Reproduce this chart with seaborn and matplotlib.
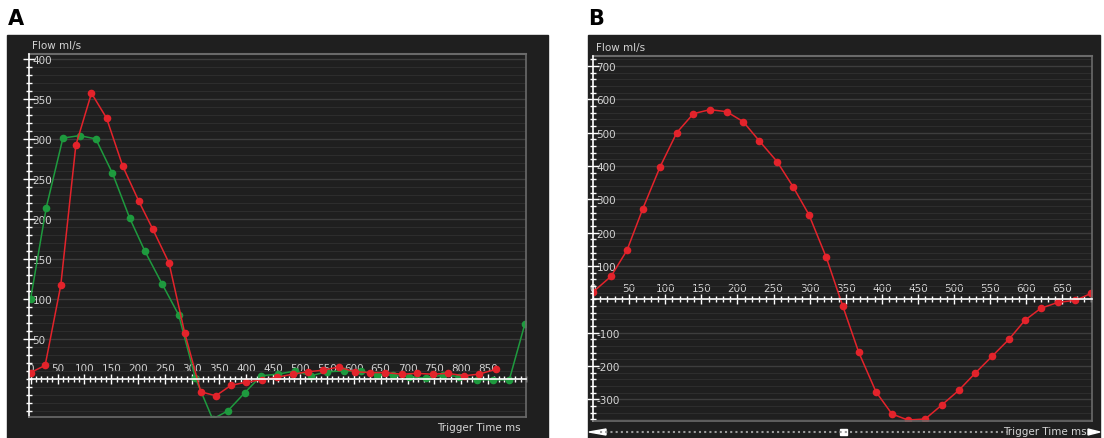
import matplotlib
matplotlib.use("Agg")
import matplotlib.pyplot as plt
import seaborn as sns
from matplotlib.ticker import MultipleLocator
from matplotlib.patches import Rectangle, Polygon
from matplotlib.lines import Line2D

# Panel A: two flow curves (ms, ml/s)
a_red_time = [0, 27, 56, 84, 113, 141, 171, 201, 227, 257, 286, 316, 344, 372, 400,
              429, 457, 487, 515, 543, 572, 602, 631, 658, 689, 717, 747, 775, 805, 832, 864]
a_red_flow = [8, 17, 117, 292, 357, 326, 266, 222, 187, 145, 58, -16, -21, -8, -4,
              -1, 2, 6, 9, 11, 15, 9, 8, 8, 6, 7, 6, 7, 4, 6, 12]
a_green_time = [0, 29, 60, 91, 121, 152, 184, 212, 244, 275, 306, 338, 366, 398, 428,
                459, 491, 520, 550, 582, 613, 643, 673, 702, 734, 766, 796, 829, 859, 889, 918]
a_green_flow = [100, 214, 301, 304, 300, 257, 201, 160, 119, 80, 1, -50, -40, -17, 4,
                6, 10, 4, 9, 10, 10, 5, 5, 3, 1, 5, 3, -1, -1, -1, 69]

# Panel B: one flow curve
b_time = [0, 25, 47, 69, 93, 116, 139, 162, 185, 208, 230, 255, 277, 299, 323, 346,
          368, 392, 414, 436, 460, 483, 507, 529, 553, 576, 598, 620, 644, 668, 690]
b_flow = [22, 69, 147, 272, 398, 500, 557, 569, 563, 533, 476, 413, 338, 254, 126, -21,
          -159, -278, -344, -362, -359, -317, -272, -222, -170, -120, -63, -27, -9, -3, 18]

a_xticks = list(range(0, 851, 50))
a_yticks = list(range(50, 401, 50))
b_xticks = list(range(0, 651, 50))
b_yticks = [-300, -200, -100, 100, 200, 300, 400, 500, 600, 700]

BG = "#1f1f1f"
TXT = "#d4d4d4"
RED = "#e3232b"
GREEN = "#1e9a3e"
FS = 7.5

plt.rcParams["axes.unicode_minus"] = False


def style_panel(ax, xlim, ylim, xticks, yticks, xminor, yminor):
    ax.set_facecolor(BG)
    ax.set_xlim(*xlim)
    ax.set_ylim(*ylim)
    ax.set_xticks(xticks)
    ax.set_yticks(yticks)
    ax.xaxis.set_minor_locator(MultipleLocator(xminor))
    ax.yaxis.set_minor_locator(MultipleLocator(yminor))
    ax.set_xlabel("")
    ax.set_ylabel("")

    # horizontal grid only
    ax.grid(False)
    ax.grid(axis="y", which="minor", color="#2d2d2d", linewidth=0.8)
    ax.grid(axis="y", which="major", color="#3d3d3d", linewidth=1.0)
    ax.set_axisbelow(True)

    # x axis drawn through zero, labels above it
    ax.spines["top"].set_position(("data", 0))
    ax.spines["top"].set_color("white")
    ax.spines["top"].set_linewidth(1.2)
    ax.spines["left"].set_color("white")
    ax.spines["left"].set_linewidth(1.2)
    for s in ("bottom", "right"):
        ax.spines[s].set_color("#6a6a6a")
        ax.spines[s].set_linewidth(1.2)
    ax.axhline(ylim[1], color="#6a6a6a", linewidth=1.5, clip_on=False)

    ax.tick_params(axis="x", which="both", top=True, bottom=False,
                   labeltop=True, labelbottom=False, direction="inout",
                   colors="white", labelcolor=TXT, labelsize=FS, pad=1)
    ax.tick_params(axis="x", which="major", length=7, width=1)
    ax.tick_params(axis="x", which="minor", length=5, width=1)
    ax.tick_params(axis="y", which="both", direction="inout", colors="white",
                   labelcolor=TXT, labelsize=FS, pad=-6.5)
    ax.tick_params(axis="y", which="major", length=8, width=1)
    ax.tick_params(axis="y", which="minor", length=5, width=1)
    for lbl in ax.get_yticklabels():
        lbl.set_horizontalalignment("left")

    ax.text(0.006, 1.01, "Flow ml/s", transform=ax.transAxes, color=TXT,
            fontsize=FS, ha="left", va="bottom")
    ax.text(0.99, -0.015, "Trigger Time ms", transform=ax.transAxes, color=TXT,
            fontsize=FS, ha="right", va="top")


fig = plt.figure(figsize=(11.04, 4.39), dpi=100)
fig.patch.set_facecolor("white")

# dark panels behind each chart
fig.add_artist(Rectangle((7 / 1104, 0), 541 / 1104, 403 / 439,
                         transform=fig.transFigure, color=BG, zorder=0))
fig.add_artist(Rectangle((588 / 1104, 0), 512 / 1104, 403 / 439,
                         transform=fig.transFigure, color=BG, zorder=0))

axA = fig.add_axes([29 / 1104, 21 / 439, 497 / 1104, 363 / 439])
axB = fig.add_axes([593 / 1104, 17 / 439, 499 / 1104, 365 / 439])

line_kw = dict(marker="o", markersize=5.5, markeredgewidth=0, linewidth=1.1,
               sort=False)
sns.lineplot(x=a_green_time, y=a_green_flow, color=GREEN, ax=axA, **line_kw)
sns.lineplot(x=a_red_time, y=a_red_flow, color=RED, ax=axA, **line_kw)
sns.lineplot(x=b_time, y=b_flow, color=RED, ax=axB, **line_kw)

style_panel(axA, (-3, 920), (-47.5, 406), a_xticks, a_yticks, 10, 10)
style_panel(axB, (0, 691), (-365, 730), b_xticks, b_yticks, 10, 20)

# scroll bar strip under panel B
fig.add_artist(Line2D([600 / 1104, 1008 / 1104], [6 / 439, 6 / 439],
                      transform=fig.transFigure, color="#9a9a9a",
                      linestyle=(0, (1, 1.5)), linewidth=1.5))
fig.add_artist(Polygon([[589 / 1104, 6 / 439], [606 / 1104, 9 / 439], [606 / 1104, 3 / 439]],
                       transform=fig.transFigure, color="white"))
fig.add_artist(Polygon([[1100 / 1104, 6 / 439], [1088 / 1104, 9 / 439], [1088 / 1104, 3 / 439]],
                       transform=fig.transFigure, color="white"))
fig.add_artist(Rectangle((840 / 1104, 3 / 439), 7 / 1104, 6 / 439,
                         transform=fig.transFigure, color="white"))

fig.text(8 / 1104, 1 - 19 / 439, "A", fontsize=15, fontweight="bold", va="center")
fig.text(588 / 1104, 1 - 19 / 439, "B", fontsize=15, fontweight="bold", va="center")

fig.savefig("out.png", dpi=100, facecolor="white")
